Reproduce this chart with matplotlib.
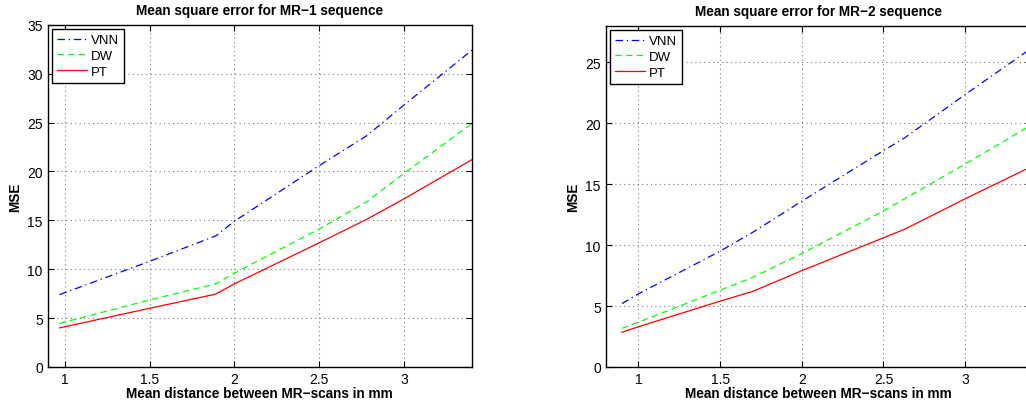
import matplotlib
matplotlib.use("Agg")
import matplotlib.pyplot as plt

plt.rcParams['font.family'] = ['Liberation Sans', 'DejaVu Sans']

# MR-1 sequence
x1 = [0.97, 1.5, 1.89, 2.0, 2.5, 2.78, 3.0, 3.4]
vnn1 = [7.4, 10.8, 13.4, 14.9, 20.6, 23.65, 26.8, 32.4]
dw1 = [4.46, 6.85, 8.5, 9.6, 14.1, 16.9, 19.8, 24.9]
pt1 = [4.0, 6.0, 7.45, 8.5, 12.7, 15.1, 17.2, 21.2]

# MR-2 sequence
x2 = [0.9, 1.0, 1.5, 1.7, 2.0, 2.5, 2.63, 3.0, 3.4]
vnn2 = [5.2, 6.0, 9.5, 11.05, 13.6, 17.75, 18.8, 22.35, 26.1]
dw2 = [3.17, 3.67, 6.3, 7.35, 9.3, 12.8, 13.8, 16.65, 19.8]
pt2 = [2.85, 3.3, 5.4, 6.2, 7.9, 10.6, 11.3, 13.8, 16.4]

titles = ["Mean square error for MR\u22121 sequence", "Mean square error for MR\u22122 sequence"]
xlabel = "Mean distance between MR\u2212scans in mm"
ylabel = "MSE"
legend_labels = ["VNN", "DW", "PT"]
xticks = [1, 1.5, 2, 2.5, 3]
xticklabels = ["1", "1.5", "2", "2.5", "3"]

W, H = 1026, 406
fig = plt.figure(figsize=(W / 100, H / 100), dpi=100)

def rect(l, r, t, b):
    return [l / W, 1 - b / H, (r - l) / W, (b - t) / H]

ax1 = fig.add_axes(rect(47.7, 472, 25.7, 368))
ax2 = fig.add_axes(rect(605.7, 1030.5, 26.7, 368))

panels = [
    (ax1, x1, vnn1, dw1, pt1, (0.9, 3.4), (0, 35), [0, 5, 10, 15, 20, 25, 30, 35]),
    (ax2, x2, vnn2, dw2, pt2, (0.8, 3.4), (0, 28), [0, 5, 10, 15, 20, 25]),
]

for i, (ax, x, v, d, p, xl, yl, yt) in enumerate(panels):
    ax.plot(x, v, color='#0000ff', linestyle='-.', linewidth=0.9, dashes=(6, 3, 1, 3), label=legend_labels[0])
    ax.plot(x, d, color='#00ff00', linestyle='--', linewidth=0.9, dashes=(5, 3.5), label=legend_labels[1])
    ax.plot(x, p, color='#ff0000', linestyle='-', linewidth=0.9, label=legend_labels[2])
    ax.set_xlim(*xl)
    ax.set_ylim(*yl)
    ax.set_xticks(xticks)
    ax.set_xticklabels(xticklabels)
    ax.set_yticks(yt)
    ax.grid(True, linestyle=(0, (1, 3)), color='#777777', linewidth=0.8)
    ax.tick_params(direction='in', top=True, right=True, labelsize=10, length=4, width=0.8, pad=3.5)
    for s in ax.spines.values():
        s.set_linewidth(1.0)
    ax.set_title(titles[i], fontsize=9.8, fontweight='bold', pad=8)
    ax.set_xlabel(xlabel, fontsize=9.8, fontweight='bold', labelpad=0)
    ax.set_ylabel(ylabel, fontsize=9.8, fontweight='bold', labelpad=4)
    leg = ax.legend(loc='upper left', fontsize=9.5, frameon=True, fancybox=False,
                    edgecolor='black', framealpha=1, borderaxespad=0.35,
                    handlelength=2.3, handletextpad=0.3, labelspacing=0.28,
                    borderpad=0.35)
    leg.get_frame().set_linewidth(1.0)

fig.savefig("out.png", dpi=100)
